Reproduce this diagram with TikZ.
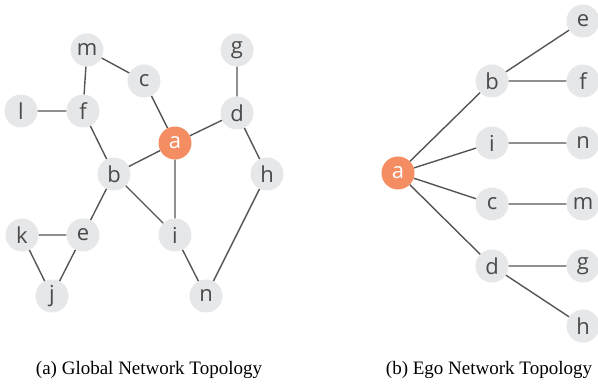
\documentclass[tikz,border=0pt]{standalone}
\usepackage{fontspec}
\setmainfont{Liberation Serif}
\newfontfamily\nodefont{Open Sans}
\definecolor{nodegray}{HTML}{E6E7E9}
\definecolor{egoorange}{HTML}{F58D63}
\definecolor{labelgray}{HTML}{4A4A4A}
\definecolor{edgegray}{HTML}{555555}
\begin{document}
\begin{tikzpicture}[x=1pt,y=-1pt,
  vtx/.style={circle,fill=nodegray,draw=none,minimum size=33pt,inner sep=0pt,
    text=labelgray,font=\nodefont\fontsize{22}{22}\selectfont},
  ego/.style={vtx,fill=egoorange,text=white},
  edge/.style={draw=edgegray,line width=1.4pt},
  captext/.style={font=\fontsize{19}{21}\selectfont,text=black,inner sep=0pt}]
\useasboundingbox (0,0) rectangle (598,387);
% Global network
\node[vtx] (m) at (87,50) {m};
\node[vtx] (c) at (144,81) {c};
\node[vtx] (g) at (237,50) {g};
\node[vtx] (l) at (21,111) {l};
\node[vtx] (f) at (83,111) {f};
\node[ego] (a) at (175,143) {a};
\node[vtx] (d) at (237,113) {d};
\node[vtx] (b) at (114,174) {b};
\node[vtx] (h) at (267,174) {h};
\node[vtx] (k) at (22,235) {k};
\node[vtx] (e) at (83,235) {e};
\node[vtx] (i) at (175,235) {i};
\node[vtx] (j) at (52,296) {j};
\node[vtx] (n) at (206,296) {n};
\path[edge] (m) -- (f) (m) -- (c) (c) -- (a) (l) -- (f) (f) -- (b)
  (b) -- (a) (b) -- (i) (b) -- (e) (a) -- (i) (a) -- (d) (d) -- (g)
  (d) -- (h) (h) -- (n) (i) -- (n) (e) -- (k) (k) -- (j) (e) -- (j);
% Ego network
\node[ego] (A) at (398,173) {a};
\node[vtx] (B) at (492,81) {b};
\node[vtx] (I) at (492,143) {i};
\node[vtx] (C) at (492,204) {c};
\node[vtx] (D) at (492,266) {d};
\node[vtx] (E) at (583,21) {e};
\node[vtx] (F) at (583,81) {f};
\node[vtx] (N) at (583,143) {n};
\node[vtx] (M) at (583,204) {m};
\node[vtx] (G) at (583,266) {g};
\node[vtx] (H) at (583,326) {h};
\path[edge] (A) -- (B) (A) -- (I) (A) -- (C) (A) -- (D)
  (B) -- (E) (B) -- (F) (I) -- (N) (C) -- (M) (D) -- (G) (D) -- (H);
% Captions
\node[captext] (capa) at (149,370) {(a) Global Network Topology};
\node[captext] (capb) at (489,370) {(b) Ego Network Topology};
\end{tikzpicture}
\end{document}
